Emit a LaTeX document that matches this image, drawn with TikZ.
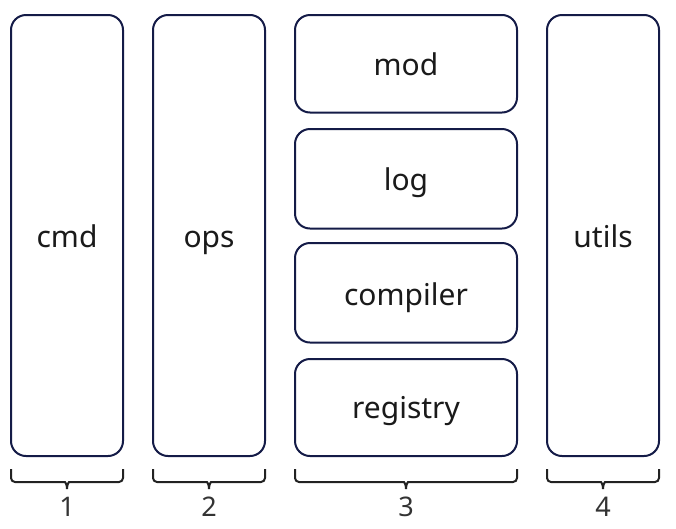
\documentclass[tikz,border=0pt]{standalone}
\usepackage{fontspec}
\setmainfont{Noto Sans}
\begin{document}
\begin{tikzpicture}[x=1pt,y=-1pt,
  box/.style={draw=boxblue, line width=2pt, rounded corners=15pt, fill=white},
  lbl/.style={font=\fontsize{30}{34}\selectfont, text=txt, anchor=base, inner sep=0pt},
  num/.style={font=\fontsize{27}{30}\selectfont, text=numc, anchor=base, inner sep=0pt},
  bracel/.style={draw=bracec, line width=2pt, rounded corners=4pt}]
\definecolor{boxblue}{HTML}{141B47}
\definecolor{txt}{HTML}{1A1A1A}
\definecolor{numc}{HTML}{333333}
\definecolor{bracec}{HTML}{222222}
\useasboundingbox (0,0) rectangle (676,528);
% boxes
\draw[box] (11,15) rectangle (123,456);
\draw[box] (153,15) rectangle (265,456);
\draw[box] (295,15) rectangle (517,112.5);
\draw[box] (295,129) rectangle (517,228.5);
\draw[box] (295,243) rectangle (517,342.5);
\draw[box] (295,359) rectangle (517,456);
\draw[box] (547,15) rectangle (659,456);
\node[lbl] (cmd) at (67,247) {cmd};
\node[lbl] (ops) at (209,247) {ops};
\node[lbl] (mod) at (406,75) {mod};
\node[lbl] (log) at (406,190) {log};
\node[lbl] (compiler) at (406,305) {compiler};
\node[lbl] (registry) at (406,418) {registry};
\node[lbl] (utils) at (603,247) {utils};
% braces
\foreach \a/\b/\n [count=\i] in {11/123/1, 153/265/2, 295/517/3, 547/659/4}{
  \pgfmathsetmacro{\m}{(\a+\b)/2}
  \draw[bracel] (\a,469) -- (\a,482) -- (\m-6,482) [rounded corners=0pt] .. controls (\m-2,482) and (\m,484) .. (\m,489);
  \draw[bracel] (\b,469) -- (\b,482) -- (\m+6,482) [rounded corners=0pt] .. controls (\m+2,482) and (\m,484) .. (\m,489);
  \node[num] (n\i) at (\m,516) {\n};
}
\end{tikzpicture}
\end{document}
